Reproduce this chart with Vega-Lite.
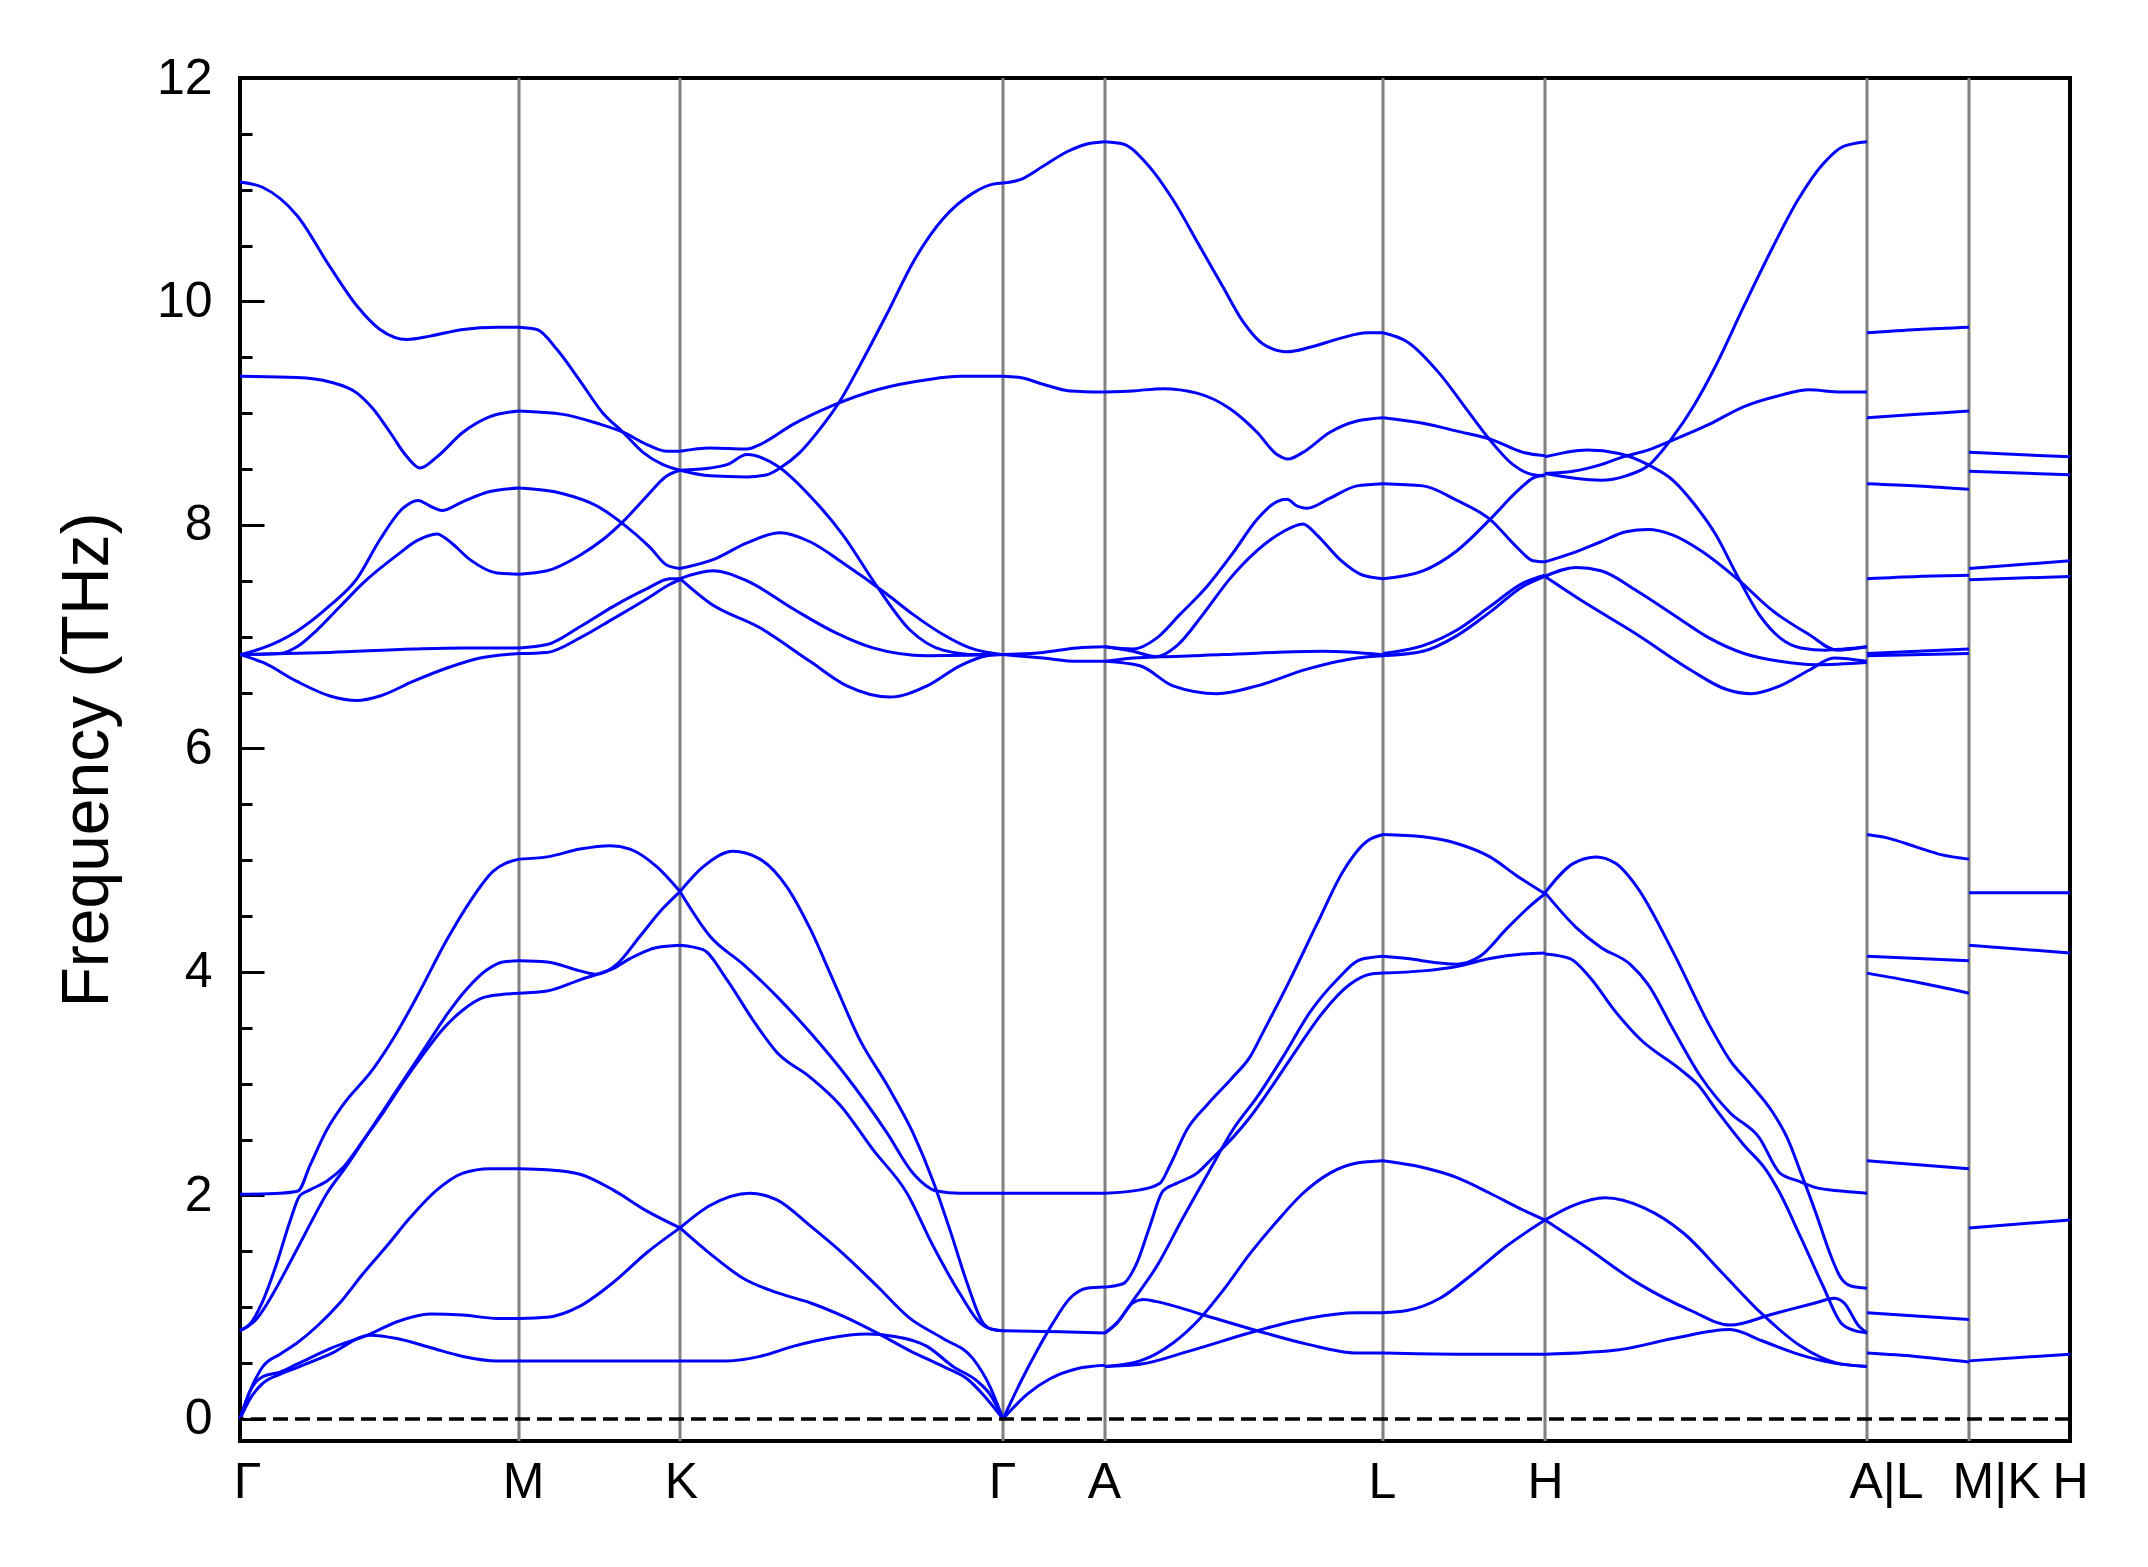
{
"$schema": "https://vega.github.io/schema/vega-lite/v6.json",
"width": 1830,
"height": 1363,
"autosize": {"type": "none"},
"padding": {"left": 240, "top": 78, "right": 78, "bottom": 126},
"background": "white",
"config": {"view": {"stroke": "black", "strokeWidth": 4}, "axis": {"grid": false, "domain": false}},
"datasets": {
"kp": [{"q":0.279},{"q":0.44},{"q":0.763},{"q":0.865},{"q":1.143},{"q":1.305},{"q":1.627},{"q":1.729}],
"bands": [
{"id":"1a","q":0,"f":11.07},{"id":"1a","q":0.023,"f":11.02},{"id":"1a","q":0.057,"f":10.77},{"id":"1a","q":0.09,"f":10.31},{"id":"1a","q":0.117,"f":9.96},{"id":"1a","q":0.14,"f":9.75},{"id":"1a","q":0.167,"f":9.66},{"id":"1a","q":0.19,"f":9.69},{"id":"1a","q":0.223,"f":9.75},{"id":"1a","q":0.257,"f":9.77},{"id":"1a","q":0.279,"f":9.77},
{"id":"1b","q":0,"f":9.33},{"id":"1b","q":0.057,"f":9.32},{"id":"1b","q":0.09,"f":9.28},{"id":"1b","q":0.117,"f":9.18},{"id":"1b","q":0.133,"f":9.04},{"id":"1b","q":0.15,"f":8.83},{"id":"1b","q":0.167,"f":8.61},{"id":"1b","q":0.18,"f":8.51},{"id":"1b","q":0.197,"f":8.61},{"id":"1b","q":0.223,"f":8.83},{"id":"1b","q":0.25,"f":8.97},{"id":"1b","q":0.279,"f":9.02},
{"id":"1c","q":0,"f":6.84},{"id":"1c","q":0.023,"f":6.9},{"id":"1c","q":0.057,"f":7.05},{"id":"1c","q":0.09,"f":7.28},{"id":"1c","q":0.117,"f":7.52},{"id":"1c","q":0.14,"f":7.87},{"id":"1c","q":0.163,"f":8.15},{"id":"1c","q":0.178,"f":8.22},{"id":"1c","q":0.19,"f":8.17},{"id":"1c","q":0.202,"f":8.13},{"id":"1c","q":0.223,"f":8.21},{"id":"1c","q":0.25,"f":8.3},{"id":"1c","q":0.279,"f":8.33},
{"id":"1d","q":0,"f":6.84},{"id":"1d","q":0.04,"f":6.85},{"id":"1d","q":0.057,"f":6.91},{"id":"1d","q":0.077,"f":7.06},{"id":"1d","q":0.1,"f":7.27},{"id":"1d","q":0.123,"f":7.48},{"id":"1d","q":0.157,"f":7.73},{"id":"1d","q":0.177,"f":7.86},{"id":"1d","q":0.197,"f":7.92},{"id":"1d","q":0.21,"f":7.85},{"id":"1d","q":0.23,"f":7.69},{"id":"1d","q":0.257,"f":7.57},{"id":"1d","q":0.279,"f":7.56},
{"id":"1e","q":0,"f":6.84},{"id":"1e","q":0.09,"f":6.86},{"id":"1e","q":0.173,"f":6.89},{"id":"1e","q":0.223,"f":6.9},{"id":"1e","q":0.279,"f":6.9},
{"id":"1f","q":0,"f":6.84},{"id":"1f","q":0.023,"f":6.77},{"id":"1f","q":0.057,"f":6.6},{"id":"1f","q":0.09,"f":6.47},{"id":"1f","q":0.117,"f":6.43},{"id":"1f","q":0.14,"f":6.47},{"id":"1f","q":0.173,"f":6.6},{"id":"1f","q":0.207,"f":6.72},{"id":"1f","q":0.24,"f":6.81},{"id":"1f","q":0.279,"f":6.85},
{"id":"1g","q":0,"f":2.01},{"id":"1g","q":0.04,"f":2.02},{"id":"1g","q":0.058,"f":2.04},{"id":"1g","q":0.07,"f":2.27},{"id":"1g","q":0.087,"f":2.59},{"id":"1g","q":0.103,"f":2.81},{"id":"1g","q":0.133,"f":3.13},{"id":"1g","q":0.153,"f":3.4},{"id":"1g","q":0.177,"f":3.78},{"id":"1g","q":0.207,"f":4.29},{"id":"1g","q":0.23,"f":4.63},{"id":"1g","q":0.253,"f":4.9},{"id":"1g","q":0.279,"f":5.01},
{"id":"1h","q":0,"f":0.79},{"id":"1h","q":0.01,"f":0.85},{"id":"1h","q":0.023,"f":1.06},{"id":"1h","q":0.037,"f":1.4},{"id":"1h","q":0.05,"f":1.77},{"id":"1h","q":0.06,"f":2.0},{"id":"1h","q":0.07,"f":2.05},{"id":"1h","q":0.087,"f":2.13},{"id":"1h","q":0.103,"f":2.25},{"id":"1h","q":0.123,"f":2.49},{"id":"1h","q":0.143,"f":2.74},{"id":"1h","q":0.163,"f":3.01},{"id":"1h","q":0.183,"f":3.26},{"id":"1h","q":0.203,"f":3.49},{"id":"1h","q":0.223,"f":3.66},{"id":"1h","q":0.243,"f":3.77},{"id":"1h","q":0.263,"f":3.8},{"id":"1h","q":0.279,"f":3.81},
{"id":"1i","q":0,"f":0.79},{"id":"1i","q":0.017,"f":0.9},{"id":"1i","q":0.033,"f":1.12},{"id":"1i","q":0.05,"f":1.4},{"id":"1i","q":0.067,"f":1.69},{"id":"1i","q":0.087,"f":2.02},{"id":"1i","q":0.107,"f":2.27},{"id":"1i","q":0.127,"f":2.54},{"id":"1i","q":0.147,"f":2.81},{"id":"1i","q":0.167,"f":3.08},{"id":"1i","q":0.187,"f":3.35},{"id":"1i","q":0.207,"f":3.62},{"id":"1i","q":0.227,"f":3.85},{"id":"1i","q":0.247,"f":4.02},{"id":"1i","q":0.263,"f":4.09},{"id":"1i","q":0.279,"f":4.1},
{"id":"1j","q":0,"f":0},{"id":"1j","q":0.01,"f":0.25},{"id":"1j","q":0.023,"f":0.47},{"id":"1j","q":0.04,"f":0.58},{"id":"1j","q":0.057,"f":0.68},{"id":"1j","q":0.077,"f":0.83},{"id":"1j","q":0.1,"f":1.04},{"id":"1j","q":0.123,"f":1.3},{"id":"1j","q":0.147,"f":1.55},{"id":"1j","q":0.17,"f":1.8},{"id":"1j","q":0.197,"f":2.05},{"id":"1j","q":0.223,"f":2.2},{"id":"1j","q":0.25,"f":2.24},{"id":"1j","q":0.279,"f":2.24},
{"id":"1k","q":0,"f":0},{"id":"1k","q":0.01,"f":0.25},{"id":"1k","q":0.023,"f":0.38},{"id":"1k","q":0.04,"f":0.42},{"id":"1k","q":0.057,"f":0.49},{"id":"1k","q":0.09,"f":0.63},{"id":"1k","q":0.13,"f":0.76},{"id":"1k","q":0.157,"f":0.87},{"id":"1k","q":0.19,"f":0.94},{"id":"1k","q":0.223,"f":0.93},{"id":"1k","q":0.257,"f":0.9},{"id":"1k","q":0.279,"f":0.9},
{"id":"1l","q":0,"f":0},{"id":"1l","q":0.01,"f":0.18},{"id":"1l","q":0.023,"f":0.32},{"id":"1l","q":0.04,"f":0.4},{"id":"1l","q":0.057,"f":0.46},{"id":"1l","q":0.09,"f":0.58},{"id":"1l","q":0.13,"f":0.75},{"id":"1l","q":0.157,"f":0.72},{"id":"1l","q":0.19,"f":0.64},{"id":"1l","q":0.223,"f":0.56},{"id":"1l","q":0.257,"f":0.52},{"id":"1l","q":0.279,"f":0.52},
{"id":"2a","q":0.279,"f":9.77},{"id":"2a","q":0.297,"f":9.75},{"id":"2a","q":0.317,"f":9.57},{"id":"2a","q":0.34,"f":9.29},{"id":"2a","q":0.363,"f":9.0},{"id":"2a","q":0.383,"f":8.83},{"id":"2a","q":0.403,"f":8.65},{"id":"2a","q":0.423,"f":8.54},{"id":"2a","q":0.44,"f":8.49},
{"id":"2b","q":0.279,"f":9.02},{"id":"2b","q":0.323,"f":8.99},{"id":"2b","q":0.357,"f":8.91},{"id":"2b","q":0.383,"f":8.83},{"id":"2b","q":0.407,"f":8.72},{"id":"2b","q":0.427,"f":8.66},{"id":"2b","q":0.44,"f":8.66},
{"id":"2c","q":0.279,"f":8.33},{"id":"2c","q":0.323,"f":8.28},{"id":"2c","q":0.357,"f":8.17},{"id":"2c","q":0.383,"f":8.01},{"id":"2c","q":0.41,"f":7.8},{"id":"2c","q":0.427,"f":7.64},{"id":"2c","q":0.44,"f":7.61},
{"id":"2d","q":0.279,"f":7.56},{"id":"2d","q":0.307,"f":7.59},{"id":"2d","q":0.34,"f":7.73},{"id":"2d","q":0.363,"f":7.87},{"id":"2d","q":0.383,"f":8.03},{"id":"2d","q":0.407,"f":8.26},{"id":"2d","q":0.427,"f":8.44},{"id":"2d","q":0.44,"f":8.49},
{"id":"2e","q":0.279,"f":6.9},{"id":"2e","q":0.307,"f":6.93},{"id":"2e","q":0.34,"f":7.09},{"id":"2e","q":0.373,"f":7.27},{"id":"2e","q":0.407,"f":7.43},{"id":"2e","q":0.43,"f":7.52},{"id":"2e","q":0.44,"f":7.52},
{"id":"2f","q":0.279,"f":6.85},{"id":"2f","q":0.307,"f":6.86},{"id":"2f","q":0.34,"f":6.99},{"id":"2f","q":0.373,"f":7.16},{"id":"2f","q":0.407,"f":7.34},{"id":"2f","q":0.43,"f":7.47},{"id":"2f","q":0.44,"f":7.51},
{"id":"2g","q":0.279,"f":5.01},{"id":"2g","q":0.307,"f":5.03},{"id":"2g","q":0.34,"f":5.1},{"id":"2g","q":0.37,"f":5.13},{"id":"2g","q":0.39,"f":5.1},{"id":"2g","q":0.417,"f":4.94},{"id":"2g","q":0.44,"f":4.72},
{"id":"2h","q":0.279,"f":4.1},{"id":"2h","q":0.307,"f":4.09},{"id":"2h","q":0.34,"f":4.01},{"id":"2h","q":0.357,"f":3.98},{"id":"2h","q":0.377,"f":4.07},{"id":"2h","q":0.4,"f":4.32},{"id":"2h","q":0.423,"f":4.57},{"id":"2h","q":0.44,"f":4.72},
{"id":"2i","q":0.279,"f":3.81},{"id":"2i","q":0.307,"f":3.83},{"id":"2i","q":0.34,"f":3.93},{"id":"2i","q":0.357,"f":3.98},{"id":"2i","q":0.373,"f":4.03},{"id":"2i","q":0.39,"f":4.12},{"id":"2i","q":0.417,"f":4.22},{"id":"2i","q":0.44,"f":4.24},
{"id":"2j","q":0.279,"f":2.24},{"id":"2j","q":0.307,"f":2.23},{"id":"2j","q":0.34,"f":2.19},{"id":"2j","q":0.373,"f":2.05},{"id":"2j","q":0.407,"f":1.86},{"id":"2j","q":0.44,"f":1.71},
{"id":"2k","q":0.279,"f":0.9},{"id":"2k","q":0.307,"f":0.91},{"id":"2k","q":0.34,"f":1.01},{"id":"2k","q":0.373,"f":1.22},{"id":"2k","q":0.407,"f":1.49},{"id":"2k","q":0.44,"f":1.71},
{"id":"2l","q":0.279,"f":0.52},{"id":"2l","q":0.36,"f":0.52},{"id":"2l","q":0.44,"f":0.52},
{"id":"3a","q":0.44,"f":8.49},{"id":"3a","q":0.47,"f":8.51},{"id":"3a","q":0.487,"f":8.54},{"id":"3a","q":0.507,"f":8.63},{"id":"3a","q":0.537,"f":8.53},{"id":"3a","q":0.57,"f":8.26},{"id":"3a","q":0.603,"f":7.91},{"id":"3a","q":0.637,"f":7.45},{"id":"3a","q":0.67,"f":7.06},{"id":"3a","q":0.703,"f":6.88},{"id":"3a","q":0.737,"f":6.84},{"id":"3a","q":0.763,"f":6.84},
{"id":"3b","q":0.44,"f":8.49},{"id":"3b","q":0.47,"f":8.44},{"id":"3b","q":0.507,"f":8.43},{"id":"3b","q":0.527,"f":8.45},{"id":"3b","q":0.54,"f":8.51},{"id":"3b","q":0.56,"f":8.65},{"id":"3b","q":0.58,"f":8.86},{"id":"3b","q":0.6,"f":9.11},{"id":"3b","q":0.62,"f":9.43},{"id":"3b","q":0.647,"f":9.89},{"id":"3b","q":0.673,"f":10.35},{"id":"3b","q":0.703,"f":10.74},{"id":"3b","q":0.733,"f":10.97},{"id":"3b","q":0.753,"f":11.05},{"id":"3b","q":0.763,"f":11.06},
{"id":"3c","q":0.44,"f":8.66},{"id":"3c","q":0.47,"f":8.69},{"id":"3c","q":0.507,"f":8.68},{"id":"3c","q":0.52,"f":8.72},{"id":"3c","q":0.553,"f":8.9},{"id":"3c","q":0.593,"f":9.07},{"id":"3c","q":0.637,"f":9.21},{"id":"3c","q":0.687,"f":9.3},{"id":"3c","q":0.72,"f":9.33},{"id":"3c","q":0.763,"f":9.33},
{"id":"3d","q":0.44,"f":7.61},{"id":"3d","q":0.473,"f":7.69},{"id":"3d","q":0.507,"f":7.84},{"id":"3d","q":0.54,"f":7.93},{"id":"3d","q":0.57,"f":7.85},{"id":"3d","q":0.603,"f":7.66},{"id":"3d","q":0.647,"f":7.38},{"id":"3d","q":0.673,"f":7.2},{"id":"3d","q":0.703,"f":7.02},{"id":"3d","q":0.73,"f":6.9},{"id":"3d","q":0.763,"f":6.84},
{"id":"3e","q":0.44,"f":7.52},{"id":"3e","q":0.473,"f":7.59},{"id":"3e","q":0.507,"f":7.5},{"id":"3e","q":0.553,"f":7.25},{"id":"3e","q":0.597,"f":7.03},{"id":"3e","q":0.633,"f":6.9},{"id":"3e","q":0.687,"f":6.83},{"id":"3e","q":0.763,"f":6.84},
{"id":"3f","q":0.44,"f":7.52},{"id":"3f","q":0.47,"f":7.3},{"id":"3f","q":0.52,"f":7.08},{"id":"3f","q":0.57,"f":6.78},{"id":"3f","q":0.607,"f":6.56},{"id":"3f","q":0.65,"f":6.46},{"id":"3f","q":0.687,"f":6.56},{"id":"3f","q":0.72,"f":6.74},{"id":"3f","q":0.747,"f":6.83},{"id":"3f","q":0.763,"f":6.84},
{"id":"3g","q":0.44,"f":4.72},{"id":"3g","q":0.47,"f":4.32},{"id":"3g","q":0.503,"f":4.07},{"id":"3g","q":0.537,"f":3.78},{"id":"3g","q":0.57,"f":3.46},{"id":"3g","q":0.607,"f":3.06},{"id":"3g","q":0.647,"f":2.56},{"id":"3g","q":0.673,"f":2.2},{"id":"3g","q":0.697,"f":2.04},{"id":"3g","q":0.72,"f":2.02},{"id":"3g","q":0.763,"f":2.02},
{"id":"3h","q":0.44,"f":4.72},{"id":"3h","q":0.463,"f":4.94},{"id":"3h","q":0.493,"f":5.08},{"id":"3h","q":0.52,"f":5.01},{"id":"3h","q":0.547,"f":4.76},{"id":"3h","q":0.57,"f":4.39},{"id":"3h","q":0.593,"f":3.93},{"id":"3h","q":0.62,"f":3.39},{"id":"3h","q":0.647,"f":2.99},{"id":"3h","q":0.673,"f":2.56},{"id":"3h","q":0.693,"f":2.13},{"id":"3h","q":0.71,"f":1.69},{"id":"3h","q":0.727,"f":1.22},{"id":"3h","q":0.743,"f":0.86},{"id":"3h","q":0.753,"f":0.8},{"id":"3h","q":0.763,"f":0.79},
{"id":"3i","q":0.44,"f":4.24},{"id":"3i","q":0.463,"f":4.2},{"id":"3i","q":0.487,"f":3.93},{"id":"3i","q":0.513,"f":3.57},{"id":"3i","q":0.537,"f":3.28},{"id":"3i","q":0.57,"f":3.06},{"id":"3i","q":0.6,"f":2.81},{"id":"3i","q":0.633,"f":2.41},{"id":"3i","q":0.667,"f":2.02},{"id":"3i","q":0.693,"f":1.55},{"id":"3i","q":0.72,"f":1.12},{"id":"3i","q":0.74,"f":0.86},{"id":"3i","q":0.753,"f":0.8},{"id":"3i","q":0.763,"f":0.79},
{"id":"3j","q":0.44,"f":1.71},{"id":"3j","q":0.47,"f":1.91},{"id":"3j","q":0.51,"f":2.02},{"id":"3j","q":0.537,"f":1.96},{"id":"3j","q":0.57,"f":1.73},{"id":"3j","q":0.603,"f":1.48},{"id":"3j","q":0.637,"f":1.19},{"id":"3j","q":0.67,"f":0.9},{"id":"3j","q":0.703,"f":0.72},{"id":"3j","q":0.733,"f":0.54},{"id":"3j","q":0.75,"f":0.29},{"id":"3j","q":0.763,"f":0},
{"id":"3k","q":0.44,"f":1.71},{"id":"3k","q":0.47,"f":1.48},{"id":"3k","q":0.503,"f":1.26},{"id":"3k","q":0.537,"f":1.13},{"id":"3k","q":0.57,"f":1.04},{"id":"3k","q":0.603,"f":0.92},{"id":"3k","q":0.637,"f":0.77},{"id":"3k","q":0.67,"f":0.61},{"id":"3k","q":0.703,"f":0.47},{"id":"3k","q":0.727,"f":0.36},{"id":"3k","q":0.743,"f":0.22},{"id":"3k","q":0.763,"f":0},
{"id":"3l","q":0.44,"f":0.52},{"id":"3l","q":0.487,"f":0.52},{"id":"3l","q":0.52,"f":0.56},{"id":"3l","q":0.553,"f":0.65},{"id":"3l","q":0.587,"f":0.72},{"id":"3l","q":0.627,"f":0.76},{"id":"3l","q":0.653,"f":0.74},{"id":"3l","q":0.687,"f":0.65},{"id":"3l","q":0.713,"f":0.47},{"id":"3l","q":0.737,"f":0.34},{"id":"3l","q":0.75,"f":0.22},{"id":"3l","q":0.763,"f":0},
{"id":"4a","q":0.763,"f":11.06},{"id":"4a","q":0.78,"f":11.09},{"id":"4a","q":0.803,"f":11.21},{"id":"4a","q":0.827,"f":11.34},{"id":"4a","q":0.847,"f":11.41},{"id":"4a","q":0.865,"f":11.43},
{"id":"4b","q":0.763,"f":9.33},{"id":"4b","q":0.78,"f":9.32},{"id":"4b","q":0.803,"f":9.26},{"id":"4b","q":0.83,"f":9.2},{"id":"4b","q":0.865,"f":9.19},
{"id":"4c","q":0.763,"f":6.84},{"id":"4c","q":0.803,"f":6.86},{"id":"4c","q":0.837,"f":6.9},{"id":"4c","q":0.865,"f":6.91},
{"id":"4d","q":0.763,"f":6.84},{"id":"4d","q":0.803,"f":6.81},{"id":"4d","q":0.837,"f":6.78},{"id":"4d","q":0.865,"f":6.78},
{"id":"4e","q":0.763,"f":2.02},{"id":"4e","q":0.865,"f":2.02},
{"id":"4f","q":0.763,"f":0.79},{"id":"4f","q":0.82,"f":0.78},{"id":"4f","q":0.865,"f":0.77},
{"id":"4g","q":0.763,"f":0},{"id":"4g","q":0.78,"f":0.32},{"id":"4g","q":0.797,"f":0.61},{"id":"4g","q":0.813,"f":0.86},{"id":"4g","q":0.83,"f":1.08},{"id":"4g","q":0.847,"f":1.17},{"id":"4g","q":0.865,"f":1.18},
{"id":"4h","q":0.763,"f":0},{"id":"4h","q":0.787,"f":0.22},{"id":"4h","q":0.81,"f":0.36},{"id":"4h","q":0.837,"f":0.45},{"id":"4h","q":0.865,"f":0.48},
{"id":"5a","q":0.865,"f":11.43},{"id":"5a","q":0.883,"f":11.41},{"id":"5a","q":0.907,"f":11.23},{"id":"5a","q":0.933,"f":10.91},{"id":"5a","q":0.96,"f":10.49},{"id":"5a","q":0.983,"f":10.13},{"id":"5a","q":1.003,"f":9.82},{"id":"5a","q":1.023,"f":9.62},{"id":"5a","q":1.047,"f":9.55},{"id":"5a","q":1.07,"f":9.59},{"id":"5a","q":1.1,"f":9.67},{"id":"5a","q":1.127,"f":9.72},{"id":"5a","q":1.143,"f":9.72},
{"id":"5b","q":0.865,"f":9.19},{"id":"5b","q":0.893,"f":9.2},{"id":"5b","q":0.923,"f":9.22},{"id":"5b","q":0.957,"f":9.18},{"id":"5b","q":0.99,"f":9.04},{"id":"5b","q":1.017,"f":8.83},{"id":"5b","q":1.037,"f":8.63},{"id":"5b","q":1.048,"f":8.59},{"id":"5b","q":1.063,"f":8.65},{"id":"5b","q":1.09,"f":8.83},{"id":"5b","q":1.117,"f":8.93},{"id":"5b","q":1.143,"f":8.96},
{"id":"5c","q":0.865,"f":6.91},{"id":"5c","q":0.893,"f":6.89},{"id":"5c","q":0.917,"f":6.99},{"id":"5c","q":0.94,"f":7.2},{"id":"5c","q":0.967,"f":7.45},{"id":"5c","q":0.993,"f":7.75},{"id":"5c","q":1.017,"f":8.05},{"id":"5c","q":1.037,"f":8.21},{"id":"5c","q":1.047,"f":8.23},{"id":"5c","q":1.057,"f":8.17},{"id":"5c","q":1.067,"f":8.15},{"id":"5c","q":1.09,"f":8.24},{"id":"5c","q":1.117,"f":8.35},{"id":"5c","q":1.143,"f":8.37},
{"id":"5d","q":0.865,"f":6.78},{"id":"5d","q":0.893,"f":6.81},{"id":"5d","q":0.917,"f":6.82},{"id":"5d","q":0.937,"f":6.92},{"id":"5d","q":0.963,"f":7.2},{"id":"5d","q":0.99,"f":7.52},{"id":"5d","q":1.017,"f":7.77},{"id":"5d","q":1.043,"f":7.94},{"id":"5d","q":1.063,"f":8.01},{"id":"5d","q":1.077,"f":7.91},{"id":"5d","q":1.1,"f":7.69},{"id":"5d","q":1.123,"f":7.55},{"id":"5d","q":1.143,"f":7.52},
{"id":"5e","q":0.865,"f":6.91},{"id":"5e","q":0.893,"f":6.87},{"id":"5e","q":0.917,"f":6.82},{"id":"5e","q":0.983,"f":6.84},{"id":"5e","q":1.083,"f":6.87},{"id":"5e","q":1.143,"f":6.84},
{"id":"5f","q":0.865,"f":6.78},{"id":"5f","q":0.9,"f":6.74},{"id":"5f","q":0.933,"f":6.56},{"id":"5f","q":0.977,"f":6.49},{"id":"5f","q":1.017,"f":6.56},{"id":"5f","q":1.067,"f":6.71},{"id":"5f","q":1.117,"f":6.81},{"id":"5f","q":1.143,"f":6.83},
{"id":"5g","q":0.865,"f":2.02},{"id":"5g","q":0.9,"f":2.05},{"id":"5g","q":0.92,"f":2.11},{"id":"5g","q":0.93,"f":2.27},{"id":"5g","q":0.947,"f":2.59},{"id":"5g","q":0.967,"f":2.81},{"id":"5g","q":0.993,"f":3.06},{"id":"5g","q":1.01,"f":3.24},{"id":"5g","q":1.023,"f":3.46},{"id":"5g","q":1.05,"f":3.93},{"id":"5g","q":1.077,"f":4.43},{"id":"5g","q":1.103,"f":4.9},{"id":"5g","q":1.127,"f":5.17},{"id":"5g","q":1.143,"f":5.23},
{"id":"5h","q":0.865,"f":1.18},{"id":"5h","q":0.883,"f":1.21},{"id":"5h","q":0.897,"f":1.4},{"id":"5h","q":0.91,"f":1.73},{"id":"5h","q":0.923,"f":2.04},{"id":"5h","q":0.937,"f":2.11},{"id":"5h","q":0.957,"f":2.2},{"id":"5h","q":0.973,"f":2.34},{"id":"5h","q":0.993,"f":2.52},{"id":"5h","q":1.01,"f":2.7},{"id":"5h","q":1.033,"f":2.99},{"id":"5h","q":1.057,"f":3.31},{"id":"5h","q":1.083,"f":3.64},{"id":"5h","q":1.11,"f":3.89},{"id":"5h","q":1.13,"f":3.98},{"id":"5h","q":1.143,"f":3.99},
{"id":"5i","q":0.865,"f":0.77},{"id":"5i","q":0.877,"f":0.86},{"id":"5i","q":0.893,"f":1.06},{"id":"5i","q":0.917,"f":1.37},{"id":"5i","q":0.943,"f":1.8},{"id":"5i","q":0.97,"f":2.23},{"id":"5i","q":0.993,"f":2.59},{"id":"5i","q":1.017,"f":2.88},{"id":"5i","q":1.043,"f":3.24},{"id":"5i","q":1.07,"f":3.64},{"id":"5i","q":1.097,"f":3.93},{"id":"5i","q":1.12,"f":4.11},{"id":"5i","q":1.143,"f":4.14},
{"id":"5j","q":0.865,"f":0.77},{"id":"5j","q":0.877,"f":0.86},{"id":"5j","q":0.893,"f":1.04},{"id":"5j","q":0.903,"f":1.07},{"id":"5j","q":0.917,"f":1.05},{"id":"5j","q":0.96,"f":0.94},{"id":"5j","q":1.017,"f":0.79},{"id":"5j","q":1.067,"f":0.67},{"id":"5j","q":1.117,"f":0.59},{"id":"5j","q":1.143,"f":0.59},
{"id":"5k","q":0.865,"f":0.47},{"id":"5k","q":0.9,"f":0.52},{"id":"5k","q":0.933,"f":0.68},{"id":"5k","q":0.96,"f":0.9},{"id":"5k","q":0.983,"f":1.15},{"id":"5k","q":1.01,"f":1.48},{"id":"5k","q":1.037,"f":1.77},{"id":"5k","q":1.063,"f":2.02},{"id":"5k","q":1.09,"f":2.2},{"id":"5k","q":1.117,"f":2.29},{"id":"5k","q":1.143,"f":2.31},
{"id":"5l","q":0.865,"f":0.47},{"id":"5l","q":0.9,"f":0.49},{"id":"5l","q":0.95,"f":0.61},{"id":"5l","q":1.017,"f":0.79},{"id":"5l","q":1.067,"f":0.9},{"id":"5l","q":1.117,"f":0.95},{"id":"5l","q":1.143,"f":0.95},
{"id":"6a","q":1.143,"f":9.72},{"id":"6a","q":1.167,"f":9.64},{"id":"6a","q":1.2,"f":9.35},{"id":"6a","q":1.227,"f":9.03},{"id":"6a","q":1.25,"f":8.76},{"id":"6a","q":1.273,"f":8.54},{"id":"6a","q":1.293,"f":8.45},{"id":"6a","q":1.305,"f":8.44},
{"id":"6b","q":1.143,"f":8.96},{"id":"6b","q":1.183,"f":8.91},{"id":"6b","q":1.217,"f":8.84},{"id":"6b","q":1.253,"f":8.76},{"id":"6b","q":1.283,"f":8.65},{"id":"6b","q":1.305,"f":8.62},
{"id":"6c","q":1.143,"f":7.52},{"id":"6c","q":1.183,"f":7.59},{"id":"6c","q":1.217,"f":7.77},{"id":"6c","q":1.25,"f":8.05},{"id":"6c","q":1.277,"f":8.3},{"id":"6c","q":1.293,"f":8.42},{"id":"6c","q":1.305,"f":8.45},
{"id":"6d","q":1.143,"f":8.37},{"id":"6d","q":1.183,"f":8.35},{"id":"6d","q":1.217,"f":8.22},{"id":"6d","q":1.25,"f":8.05},{"id":"6d","q":1.277,"f":7.8},{"id":"6d","q":1.293,"f":7.68},{"id":"6d","q":1.305,"f":7.67},
{"id":"6e","q":1.143,"f":6.85},{"id":"6e","q":1.183,"f":6.92},{"id":"6e","q":1.217,"f":7.06},{"id":"6e","q":1.25,"f":7.27},{"id":"6e","q":1.283,"f":7.48},{"id":"6e","q":1.305,"f":7.55},
{"id":"6f","q":1.143,"f":6.83},{"id":"6f","q":1.183,"f":6.87},{"id":"6f","q":1.217,"f":7.01},{"id":"6f","q":1.25,"f":7.22},{"id":"6f","q":1.283,"f":7.45},{"id":"6f","q":1.305,"f":7.54},
{"id":"6g","q":1.143,"f":5.23},{"id":"6g","q":1.183,"f":5.21},{"id":"6g","q":1.217,"f":5.15},{"id":"6g","q":1.25,"f":5.03},{"id":"6g","q":1.277,"f":4.86},{"id":"6g","q":1.305,"f":4.7},
{"id":"6h","q":1.143,"f":4.14},{"id":"6h","q":1.167,"f":4.12},{"id":"6h","q":1.2,"f":4.08},{"id":"6h","q":1.217,"f":4.07},{"id":"6h","q":1.24,"f":4.14},{"id":"6h","q":1.267,"f":4.39},{"id":"6h","q":1.29,"f":4.59},{"id":"6h","q":1.305,"f":4.7},
{"id":"6i","q":1.143,"f":3.99},{"id":"6i","q":1.183,"f":4.01},{"id":"6i","q":1.217,"f":4.05},{"id":"6i","q":1.25,"f":4.12},{"id":"6i","q":1.283,"f":4.16},{"id":"6i","q":1.305,"f":4.17},
{"id":"6j","q":1.143,"f":2.31},{"id":"6j","q":1.183,"f":2.25},{"id":"6j","q":1.217,"f":2.16},{"id":"6j","q":1.25,"f":2.02},{"id":"6j","q":1.283,"f":1.87},{"id":"6j","q":1.305,"f":1.78},
{"id":"6k","q":1.143,"f":0.95},{"id":"6k","q":1.167,"f":0.97},{"id":"6k","q":1.2,"f":1.08},{"id":"6k","q":1.233,"f":1.3},{"id":"6k","q":1.267,"f":1.55},{"id":"6k","q":1.305,"f":1.78},
{"id":"6l","q":1.143,"f":0.59},{"id":"6l","q":1.217,"f":0.58},{"id":"6l","q":1.305,"f":0.58},
{"id":"7a","q":1.305,"f":8.61},{"id":"7a","q":1.326,"f":8.65},{"id":"7a","q":1.347,"f":8.67},{"id":"7a","q":1.379,"f":8.64},{"id":"7a","q":1.408,"f":8.54},{"id":"7a","q":1.433,"f":8.4},{"id":"7a","q":1.454,"f":8.19},{"id":"7a","q":1.476,"f":7.91},{"id":"7a","q":1.497,"f":7.55},{"id":"7a","q":1.519,"f":7.2},{"id":"7a","q":1.54,"f":6.99},{"id":"7a","q":1.561,"f":6.9},{"id":"7a","q":1.586,"f":6.88},{"id":"7a","q":1.604,"f":6.89},{"id":"7a","q":1.627,"f":6.91},
{"id":"7b","q":1.305,"f":8.46},{"id":"7b","q":1.333,"f":8.48},{"id":"7b","q":1.361,"f":8.54},{"id":"7b","q":1.383,"f":8.61},{"id":"7b","q":1.408,"f":8.67},{"id":"7b","q":1.433,"f":8.76},{"id":"7b","q":1.469,"f":8.9},{"id":"7b","q":1.504,"f":9.06},{"id":"7b","q":1.54,"f":9.16},{"id":"7b","q":1.569,"f":9.21},{"id":"7b","q":1.601,"f":9.19},{"id":"7b","q":1.627,"f":9.19},
{"id":"7c","q":1.305,"f":8.46},{"id":"7c","q":1.333,"f":8.42},{"id":"7c","q":1.361,"f":8.4},{"id":"7c","q":1.386,"f":8.44},{"id":"7c","q":1.408,"f":8.53},{"id":"7c","q":1.433,"f":8.79},{"id":"7c","q":1.454,"f":9.07},{"id":"7c","q":1.476,"f":9.43},{"id":"7c","q":1.504,"f":9.96},{"id":"7c","q":1.533,"f":10.49},{"id":"7c","q":1.558,"f":10.91},{"id":"7c","q":1.583,"f":11.23},{"id":"7c","q":1.604,"f":11.39},{"id":"7c","q":1.627,"f":11.43},
{"id":"7d","q":1.305,"f":7.67},{"id":"7d","q":1.333,"f":7.75},{"id":"7d","q":1.361,"f":7.85},{"id":"7d","q":1.386,"f":7.94},{"id":"7d","q":1.408,"f":7.96},{"id":"7d","q":1.433,"f":7.91},{"id":"7d","q":1.461,"f":7.77},{"id":"7d","q":1.497,"f":7.52},{"id":"7d","q":1.533,"f":7.23},{"id":"7d","q":1.569,"f":7.02},{"id":"7d","q":1.597,"f":6.88},{"id":"7d","q":1.627,"f":6.91},
{"id":"7e","q":1.305,"f":7.54},{"id":"7e","q":1.336,"f":7.62},{"id":"7e","q":1.361,"f":7.59},{"id":"7e","q":1.397,"f":7.41},{"id":"7e","q":1.433,"f":7.2},{"id":"7e","q":1.469,"f":6.99},{"id":"7e","q":1.504,"f":6.85},{"id":"7e","q":1.54,"f":6.78},{"id":"7e","q":1.576,"f":6.75},{"id":"7e","q":1.627,"f":6.77},
{"id":"7f","q":1.305,"f":7.54},{"id":"7f","q":1.344,"f":7.31},{"id":"7f","q":1.397,"f":7.02},{"id":"7f","q":1.451,"f":6.7},{"id":"7f","q":1.486,"f":6.53},{"id":"7f","q":1.511,"f":6.49},{"id":"7f","q":1.54,"f":6.56},{"id":"7f","q":1.569,"f":6.7},{"id":"7f","q":1.594,"f":6.81},{"id":"7f","q":1.627,"f":6.78},
{"id":"7g","q":1.305,"f":4.71},{"id":"7g","q":1.336,"f":4.4},{"id":"7g","q":1.361,"f":4.22},{"id":"7g","q":1.39,"f":4.07},{"id":"7g","q":1.408,"f":3.89},{"id":"7g","q":1.433,"f":3.49},{"id":"7g","q":1.461,"f":3.06},{"id":"7g","q":1.49,"f":2.74},{"id":"7g","q":1.519,"f":2.52},{"id":"7g","q":1.54,"f":2.2},{"id":"7g","q":1.558,"f":2.13},{"id":"7g","q":1.576,"f":2.07},{"id":"7g","q":1.601,"f":2.04},{"id":"7g","q":1.627,"f":2.02},
{"id":"7h","q":1.305,"f":4.71},{"id":"7h","q":1.333,"f":4.97},{"id":"7h","q":1.356,"f":5.03},{"id":"7h","q":1.376,"f":4.97},{"id":"7h","q":1.397,"f":4.76},{"id":"7h","q":1.433,"f":4.18},{"id":"7h","q":1.469,"f":3.53},{"id":"7h","q":1.49,"f":3.21},{"id":"7h","q":1.511,"f":2.99},{"id":"7h","q":1.533,"f":2.74},{"id":"7h","q":1.547,"f":2.52},{"id":"7h","q":1.561,"f":2.2},{"id":"7h","q":1.576,"f":1.84},{"id":"7h","q":1.59,"f":1.48},{"id":"7h","q":1.601,"f":1.26},{"id":"7h","q":1.611,"f":1.19},{"id":"7h","q":1.627,"f":1.17},
{"id":"7i","q":1.305,"f":4.16},{"id":"7i","q":1.33,"f":4.12},{"id":"7i","q":1.35,"f":3.95},{"id":"7i","q":1.375,"f":3.65},{"id":"7i","q":1.4,"f":3.4},{"id":"7i","q":1.44,"f":3.13},{"id":"7i","q":1.458,"f":2.99},{"id":"7i","q":1.476,"f":2.77},{"id":"7i","q":1.504,"f":2.45},{"id":"7i","q":1.526,"f":2.23},{"id":"7i","q":1.54,"f":2.02},{"id":"7i","q":1.561,"f":1.62},{"id":"7i","q":1.583,"f":1.19},{"id":"7i","q":1.601,"f":0.86},{"id":"7i","q":1.615,"f":0.79},{"id":"7i","q":1.627,"f":0.77},
{"id":"7j","q":1.305,"f":1.78},{"id":"7j","q":1.333,"f":1.91},{"id":"7j","q":1.365,"f":1.98},{"id":"7j","q":1.404,"f":1.89},{"id":"7j","q":1.444,"f":1.66},{"id":"7j","q":1.483,"f":1.3},{"id":"7j","q":1.522,"f":0.94},{"id":"7j","q":1.561,"f":0.65},{"id":"7j","q":1.597,"f":0.5},{"id":"7j","q":1.627,"f":0.47},
{"id":"7k","q":1.305,"f":1.78},{"id":"7k","q":1.344,"f":1.55},{"id":"7k","q":1.397,"f":1.22},{"id":"7k","q":1.451,"f":0.97},{"id":"7k","q":1.49,"f":0.84},{"id":"7k","q":1.533,"f":0.94},{"id":"7k","q":1.576,"f":1.04},{"id":"7k","q":1.594,"f":1.08},{"id":"7k","q":1.604,"f":1.04},{"id":"7k","q":1.619,"f":0.83},{"id":"7k","q":1.627,"f":0.77},
{"id":"7l","q":1.305,"f":0.58},{"id":"7l","q":1.379,"f":0.62},{"id":"7l","q":1.433,"f":0.72},{"id":"7l","q":1.49,"f":0.8},{"id":"7l","q":1.522,"f":0.7},{"id":"7l","q":1.558,"f":0.58},{"id":"7l","q":1.594,"f":0.5},{"id":"7l","q":1.627,"f":0.47},
{"id":"8a","q":1.627,"f":9.72},{"id":"8a","q":1.678,"f":9.75},{"id":"8a","q":1.729,"f":9.77},
{"id":"8b","q":1.627,"f":8.96},{"id":"8b","q":1.678,"f":8.99},{"id":"8b","q":1.729,"f":9.02},
{"id":"8c","q":1.627,"f":8.37},{"id":"8c","q":1.678,"f":8.35},{"id":"8c","q":1.729,"f":8.32},
{"id":"8d","q":1.627,"f":7.52},{"id":"8d","q":1.678,"f":7.54},{"id":"8d","q":1.729,"f":7.55},
{"id":"8e","q":1.627,"f":6.85},{"id":"8e","q":1.729,"f":6.89},
{"id":"8f","q":1.627,"f":6.83},{"id":"8f","q":1.729,"f":6.85},
{"id":"8g","q":1.627,"f":5.23},{"id":"8g","q":1.647,"f":5.2},{"id":"8g","q":1.676,"f":5.12},{"id":"8g","q":1.701,"f":5.05},{"id":"8g","q":1.729,"f":5.01},
{"id":"8h","q":1.627,"f":4.14},{"id":"8h","q":1.729,"f":4.1},
{"id":"8i","q":1.627,"f":3.99},{"id":"8i","q":1.676,"f":3.91},{"id":"8i","q":1.729,"f":3.81},
{"id":"8j","q":1.627,"f":2.31},{"id":"8j","q":1.729,"f":2.24},
{"id":"8k","q":1.627,"f":0.95},{"id":"8k","q":1.729,"f":0.89},
{"id":"8l","q":1.627,"f":0.59},{"id":"8l","q":1.676,"f":0.56},{"id":"8l","q":1.729,"f":0.51},
{"id":"9a","q":1.729,"f":8.65},{"id":"9a","q":1.83,"f":8.61},
{"id":"9b","q":1.729,"f":8.48},{"id":"9b","q":1.83,"f":8.45},
{"id":"9c","q":1.729,"f":7.61},{"id":"9c","q":1.83,"f":7.68},
{"id":"9d","q":1.729,"f":7.51},{"id":"9d","q":1.83,"f":7.54},
{"id":"9e","q":1.729,"f":4.71},{"id":"9e","q":1.83,"f":4.71},
{"id":"9f","q":1.729,"f":4.24},{"id":"9f","q":1.83,"f":4.17},
{"id":"9g","q":1.729,"f":1.71},{"id":"9g","q":1.83,"f":1.78},
{"id":"9h","q":1.729,"f":0.52},{"id":"9h","q":1.83,"f":0.58}
]
},
"resolve": {"axis": {"y": "independent"}},
"layer": [
{
"data": {"name": "kp"},
"mark": {"type": "rule", "color": "#808080", "strokeWidth": 3},
"encoding": {
"x": {"field": "q", "type": "quantitative", "scale": {"domain": [0, 1.83], "nice": false, "zero": false},
"axis": {"orient": "bottom", "values": [0.007, 0.283, 0.441, 0.762, 0.864, 1.142, 1.305, 1.646, 1.756, 1.83],
"labelExpr": "datum.value < 0.1 ? 'Γ' : datum.value < 0.3 ? 'M' : datum.value < 0.5 ? 'K' : datum.value < 0.8 ? 'Γ' : datum.value < 0.9 ? 'A' : datum.value < 1.2 ? 'L' : datum.value < 1.4 ? 'H' : datum.value < 1.7 ? 'A|L' : datum.value < 1.8 ? 'M|K' : 'H'",
"ticks": false, "domain": false, "grid": false, "labels": true, "labelPadding": 16,
"labelFont": "Liberation Sans", "labelFontSize": 50, "labelColor": "black", "labelFlush": false, "labelOverlap": false, "title": null}}
}
},
{
"data": {"name": "bands"},
"mark": {"type": "line", "color": "#0000ff", "strokeWidth": 3, "interpolate": "monotone"},
"encoding": {
"x": {"field": "q", "type": "quantitative", "scale": {"domain": [0, 1.83], "nice": false, "zero": false},
"axis": {"orient": "bottom", "values": [0.007, 0.283, 0.441, 0.762, 0.864, 1.142, 1.305, 1.646, 1.756, 1.83],
"labelExpr": "datum.value < 0.1 ? 'Γ' : datum.value < 0.3 ? 'M' : datum.value < 0.5 ? 'K' : datum.value < 0.8 ? 'Γ' : datum.value < 0.9 ? 'A' : datum.value < 1.2 ? 'L' : datum.value < 1.4 ? 'H' : datum.value < 1.7 ? 'A|L' : datum.value < 1.8 ? 'M|K' : 'H'",
"ticks": false, "domain": false, "grid": false, "labels": true, "labelPadding": 16,
"labelFont": "Liberation Sans", "labelFontSize": 50, "labelColor": "black", "labelFlush": false, "labelOverlap": false, "title": null}},
"y": {"field": "f", "type": "quantitative", "scale": {"domain": [-0.197, 12], "nice": false, "zero": false},
"axis": {"orient": "left", "values": [0, 2, 4, 6, 8, 10, 12], "format": "d", "ticks": false, "tickSize": 0, "domain": false, "grid": false,
"labelPadding": 28, "labelFont": "Liberation Sans", "labelFontSize": 50, "labelColor": "black", "labelFlush": false, "labelOverlap": false,
"title": "Frequency (THz)", "titleFont": "Liberation Sans", "titleFontSize": 66, "titleFontWeight": "normal", "titleColor": "black",
"titleX": -133, "titleY": 681.5, "titleAngle": -90, "titleAlign": "center", "titleBaseline": "alphabetic"}},
"detail": {"field": "id"}
}
},
{
"data": {"values": [{"f": 0}]},
"mark": {"type": "rule", "color": "black", "strokeWidth": 3.5, "strokeDash": [15, 7]},
"encoding": {
"y": {"field": "f", "type": "quantitative",
"axis": {"orient": "left", "values": [0, 2, 4, 6, 8, 10, 12], "ticks": true, "tickSize": -24, "tickWidth": 3, "tickColor": "black", "labels": false, "domain": false, "grid": false, "title": null}}
}
},
{
"data": {"values": [{"f": 0}]},
"mark": {"type": "rule", "color": "black", "strokeOpacity": 0},
"encoding": {
"y": {"field": "f", "type": "quantitative",
"axis": {"orient": "left", "values": [0.5, 1, 1.5, 2.5, 3, 3.5, 4.5, 5, 5.5, 6.5, 7, 7.5, 8.5, 9, 9.5, 10.5, 11, 11.5], "ticks": true, "tickSize": -12, "tickWidth": 3, "tickColor": "black", "labels": false, "domain": false, "grid": false, "title": null}}
}
}
]
}
